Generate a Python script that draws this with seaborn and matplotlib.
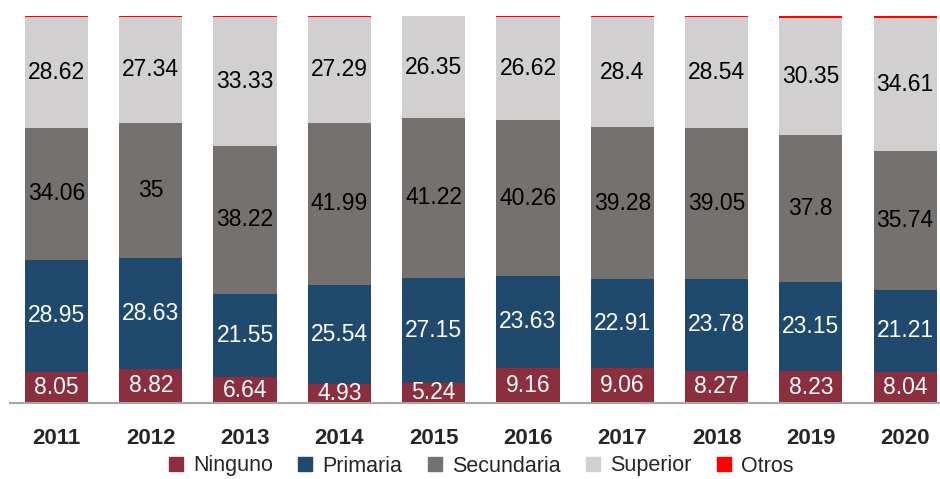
import numpy as np
import matplotlib
matplotlib.use("Agg")
import matplotlib.pyplot as plt
from matplotlib.lines import Line2D
import pandas as pd
import seaborn as sns

years = ["2011", "2012", "2013", "2014", "2015", "2016", "2017", "2018", "2019", "2020"]
ninguno = [8.05, 8.82, 6.64, 4.93, 5.24, 9.16, 9.06, 8.27, 8.23, 8.04]
primaria = [28.95, 28.63, 21.55, 25.54, 27.15, 23.63, 22.91, 23.78, 23.15, 21.21]
secundaria = [34.06, 35, 38.22, 41.99, 41.22, 40.26, 39.28, 39.05, 37.8, 35.74]
superior = [28.62, 27.34, 33.33, 27.29, 26.35, 26.62, 28.4, 28.54, 30.35, 34.61]
otros = [0.32, 0.21, 0.26, 0.25, 0.04, 0.33, 0.35, 0.36, 0.47, 0.40]

names = ["Ninguno", "Primaria", "Secundaria", "Superior", "Otros"]
colors = ["#8b2e3e", "#1f4a6e", "#75716f", "#d1cfd0", "#ff0000"]
txt_colors = ["white", "white", "black", "black", None]

sns.set_style("white")
plt.rcParams["font.family"] = ["Liberation Sans", "DejaVu Sans"]

series = [ninguno, primaria, secundaria, superior, otros]
df = pd.DataFrame({"year": years})
cum = np.zeros(len(years))
for n, s in zip(names, series):
    cum = cum + np.array(s)
    df[n] = cum

fig = plt.figure(figsize=(9.4, 4.79), dpi=100)
ax = fig.add_axes([10 / 940, 76 / 479, 930 / 940, 387 / 479])

# draw cumulative bars from the top layer down so they stack
for n, c in reversed(list(zip(names, colors))):
    sns.barplot(data=df, x="year", y=n, color=c, width=0.67, saturation=1,
                linewidth=0, ax=ax)

# segment labels
base = np.zeros(len(years))
for s, tc in zip(series, txt_colors):
    vals = np.array(s)
    if tc is not None:
        for i, v in enumerate(vals):
            ax.text(i, base[i] + v / 2, f"{v:g}", ha="center", va="center",
                    color=tc, fontsize=16.5)
    base = base + vals

ax.set_ylim(0, 100)
ax.set_xlim(-0.493, 9.37)
ax.set_xlabel("")
ax.set_ylabel("")
ax.set_yticks([])
sns.despine(ax=ax, left=True, top=True, right=True)
ax.spines["bottom"].set_color("#a6a6a6")
ax.spines["bottom"].set_linewidth(1.5)
ax.tick_params(axis="x", length=0, pad=18, labelsize=16)
for lab in ax.get_xticklabels():
    lab.set_fontweight("bold")

handles = [Line2D([], [], marker="s", linestyle="", markersize=9.5,
                  markerfacecolor=c, markeredgecolor=c) for c in colors]
fig.legend(handles, names, loc="center", bbox_to_anchor=(480 / 940, 1 - 466 / 479),
           ncol=5, frameon=False, fontsize=15.5, handletextpad=0.35,
           columnspacing=1.05, handlelength=0.9, borderpad=0)

fig.savefig("out.png", dpi=100)
